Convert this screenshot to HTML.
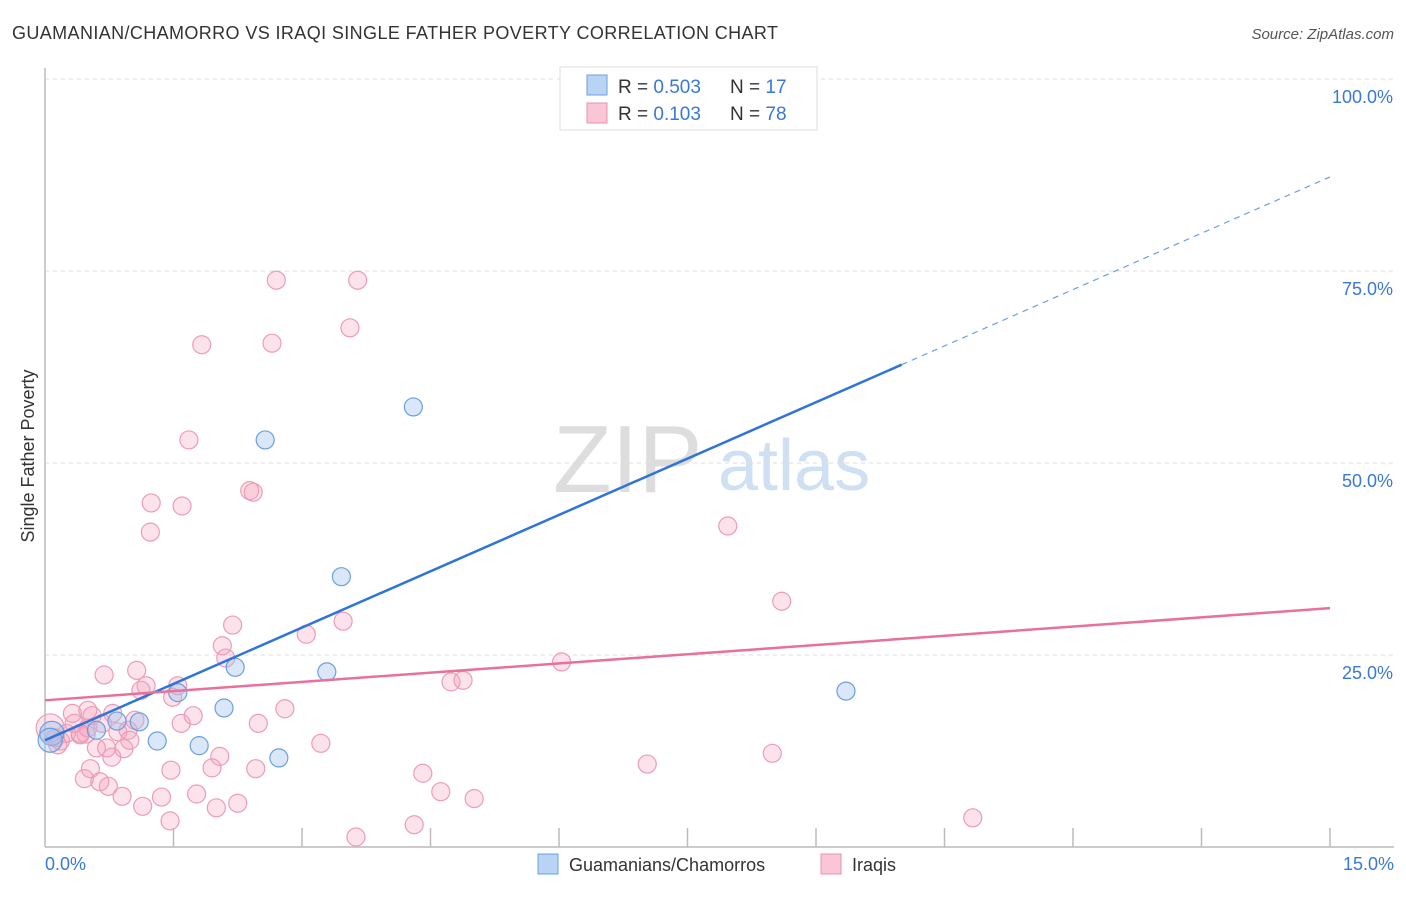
<!DOCTYPE html>
<html><head><meta charset="utf-8"><style>
body{margin:0;background:#fff;font-family:"Liberation Sans",sans-serif;}
svg text{font-family:"Liberation Sans",sans-serif;}
</style></head><body>
<svg id="chart" width="1406" height="892">
<text x="12" y="39" font-size="18" fill="#333" textLength="766">GUAMANIAN/CHAMORRO VS IRAQI SINGLE FATHER POVERTY CORRELATION CHART</text>
<text x="1394" y="39" font-size="15" fill="#555" text-anchor="end" font-style="italic">Source: ZipAtlas.com</text>
<g>
<text x="553" y="492" font-size="96" fill="#ddd" font-family="Liberation Serif">ZIP</text>
<text x="718" y="490" font-size="72" fill="#cfe0f3">atlas</text>
</g>
<g id="grid"></g>
<g id="axes"></g>
<g id="marks"></g>
<text transform="translate(34,456) rotate(-90)" font-size="18" fill="#333" text-anchor="middle">Single Father Poverty</text>
<g>
<rect x="560" y="67" width="257" height="63" fill="#fff" stroke="#ddd"/>
<rect x="587" y="75" width="20" height="20" fill="#b9d3f5" stroke="#6a9fe0"/>
<rect x="587" y="103" width="20" height="20" fill="#f9c6d6" stroke="#e891ad"/>
<text x="618" y="93" font-size="19" fill="#333">R = <tspan fill="#3a78d8">0.503</tspan></text>
<text x="730" y="93" font-size="19" fill="#333">N = <tspan fill="#3a78d8"> 17</tspan></text>
<text x="618" y="120" font-size="19" fill="#333">R = <tspan fill="#3a78d8"> 0.103</tspan></text>
<text x="730" y="120" font-size="19" fill="#333">N = <tspan fill="#3a78d8">78</tspan></text>
</g>
<g>
<rect x="538" y="854" width="20" height="20" fill="#b9d3f5" stroke="#6a9fe0"/>
<text x="569" y="871" font-size="18" fill="#333">Guamanians/Chamorros</text>
<rect x="821" y="854" width="20" height="20" fill="#f9c6d6" stroke="#e891ad"/>
<text x="852" y="871" font-size="18" fill="#333">Iraqis</text>
</g>
</svg>
<script>
const yTicks=[25,50,75,100];
const yTickLabels=["25.0%","50.0%","75.0%","100.0%"];
const xTickLabels=["0.0%","15.0%"];
const blueX=[0.08,0.6,0.84,1.1,1.31,1.55,1.8,2.09,2.22,2.57,2.73,3.29,3.46,4.3,9.35,6.28,0.06];
const blueY=[14.8,15.2,16.4,16.3,13.8,20.1,13.2,18.1,23.4,53.0,11.6,22.8,35.2,57.3,20.3,100,13.9];
const pinkX=[0.06,0.12,0.32,0.41,0.5,0.46,0.5,0.53,0.6,0.64,0.69,0.74,0.78,0.79,0.85,0.9,0.92,0.97,0.99,1.07,1.12,1.14,1.18,1.24,1.23,1.36,1.46,1.47,1.49,1.55,1.59,1.6,1.68,1.73,1.77,1.83,1.95,2.0,2.04,2.07,2.11,2.19,2.25,2.39,2.43,2.46,2.49,2.65,2.7,2.8,3.05,3.22,3.48,3.56,3.63,3.65,4.31,4.41,4.62,4.74,4.88,5.01,6.03,7.03,7.97,8.49,8.6,10.83,0.25,0.34,0.55,0.67,0.18,0.48,0.41,1.05,0.72,0.15];
const pinkY=[15.5,14.2,17.4,14.6,15.5,8.9,17.8,10.2,12.9,8.5,22.4,7.9,11.7,17.4,15.0,6.6,12.8,15.2,13.9,23.0,20.4,5.3,21.0,44.8,41.0,6.5,3.4,10.0,19.5,21.0,16.1,44.4,53.0,17.1,6.9,65.4,10.3,5.1,11.8,26.2,24.6,28.9,5.7,46.4,46.2,10.2,16.1,65.6,73.8,18.0,27.7,13.5,29.4,67.6,1.3,73.8,2.9,9.6,7.2,21.5,21.7,6.3,24.1,10.8,41.8,12.2,32.0,3.8,14.8,16.1,17.1,16.1,13.8,14.7,14.8,16.5,12.9,13.3];
const blueLine=[13.9,62.8];
const pinkLine=[19.1,31.1];
const NS="http://www.w3.org/2000/svg";
const sx=v=>45+v*(1285/15);
const sy=v=>847-v*7.68;
function mk(tag,attrs,parent){const e=document.createElementNS(NS,tag);for(const k in attrs)e.setAttribute(k,attrs[k]);document.getElementById(parent).appendChild(e);return e;}
yTicks.forEach((t,i)=>{
 const g=mk('line',{x1:45,x2:1394,y1:sy(t),y2:sy(t),stroke:'#ddd','stroke-dasharray':'4,4'},'grid');
 
 
 const l=mk('text',{x:1393,y:sy(t)+24,'font-size':18,fill:'#3a78d8','text-anchor':'end'},'grid');
 l.textContent=yTickLabels[i];
 
 
});
const ya=mk('line',{x1:45,x2:45,y1:68,y2:847,stroke:'#bbb','stroke-width':1.5},'axes');


const xa=mk('line',{x1:45,x2:1394,y1:847,y2:847,stroke:'#bbb','stroke-width':1.5},'axes');


for(let i=1;i<=10;i++){
 const t=mk('line',{x1:sx(i*1.5),x2:sx(i*1.5),y1:828,y2:847,stroke:'#bbb','stroke-width':1.5},'axes');
 
 
}
[[0,'start'],[15,'end']].forEach((p,i)=>{
 const l=mk('text',{x:i?1394:45,y:870,'font-size':18,fill:'#3a78d8','text-anchor':p[1]},'axes');
 l.textContent=xTickLabels[i];
 
 
});
pinkX.forEach((x,i)=>{
 const c=mk('circle',{cx:sx(x),cy:sy(pinkY[i]),r:i==0?14:9,fill:'rgba(244,160,185,0.3)',stroke:'#eb9db6','stroke-width':1.2},'marks');
 
 
});
blueX.forEach((x,i)=>{
 const c=mk('circle',{cx:sx(x),cy:sy(blueY[i]),r:i==0||i==16?12:9,fill:'rgba(160,195,240,0.4)',stroke:'#6a9fe0','stroke-width':1.2},'marks');
 
 
});
const bl=mk('line',{x1:sx(0),y1:sy(blueLine[0]),x2:sx(10),y2:sy(blueLine[1]),stroke:'#2f74d8','stroke-width':2.5},'marks');


const slope=(blueLine[1]-blueLine[0])/10;
const bd=mk('line',{x1:sx(10),y1:sy(blueLine[1]),x2:sx(15),y2:sy(blueLine[0]+slope*15),stroke:'#6a9fe0','stroke-width':1.2,'stroke-dasharray':'6,5'},'marks');


const pl=mk('line',{x1:sx(0),y1:sy(pinkLine[0]),x2:sx(15),y2:sy(pinkLine[1]),stroke:'#e8709a','stroke-width':2.5},'marks');


</script>
</body></html>
